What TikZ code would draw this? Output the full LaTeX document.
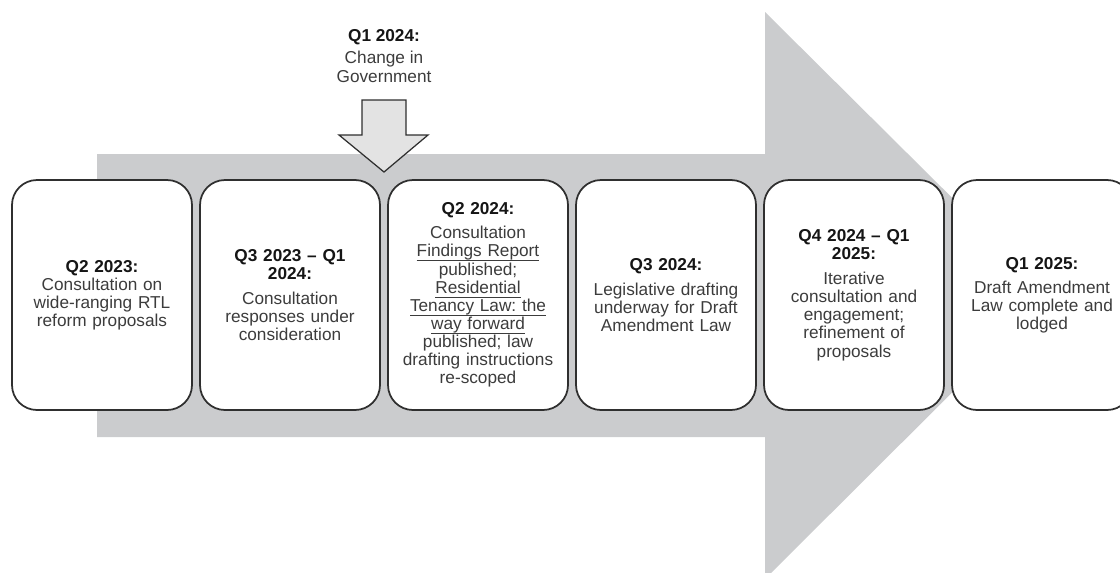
\documentclass[tikz,border=0pt]{standalone}
\usepackage{fontspec}
\setmainfont{Liberation Sans}
\usepackage{tikz}
\usetikzlibrary{positioning}
\definecolor{band}{HTML}{CBCCCE}
\definecolor{edge}{HTML}{2F2F2F}
\definecolor{body}{HTML}{3C3C3C}
\definecolor{head}{HTML}{151515}
\definecolor{drop}{HTML}{E3E3E3}
\frenchspacing
\newcommand{\stagehead}[1]{{\bfseries\color{head}#1}}
\newcommand{\linkline}[1]{\underline{\smash{#1}\rule[-0.8pt]{0pt}{0pt}}}
\tikzset{
 stage/.style={draw=edge,line width=0.35mm,fill=white,rounded corners=5mm,
  minimum width=36mm,minimum height=46mm,text width=34mm,align=center,
  text=body,inner sep=0pt},
}

\begin{document}
\begin{tikzpicture}[x=0.2mm,y=-0.2mm,font=\fontsize{9.8}{10.3}\selectfont]
\clip (0,0) rectangle (1120,572);
% the broad timeline arrow behind the stages
\fill[band] (97,154) -- (765,154) -- (765,12) -- (1050,295) -- (765,579)
 -- (765,437) -- (97,437) -- cycle;
% the change of government dropping in between two stages
\node[align=center,text=body,font=\fontsize{9.8}{11.2}\selectfont] (govt) at (384,56)
 {\stagehead{Q1 2024:}\\[0.5mm] Change in\\ Government};
\draw[edge,line width=0.25mm,fill=drop,line join=miter] (362,100) -- (406,100) -- (406,135)
 -- (428,135) -- (384,172) -- (339,135) -- (362,135) -- cycle;
% the six stages
\node[stage] (s1) at (102,295)
 {\stagehead{Q2 2023:}\\ Consultation on\\ wide-ranging RTL\\ reform proposals};
\node[stage,right=1.25mm of s1] (s2)
 {\stagehead{Q3 2023 – Q1}\\ \stagehead{2024:}\\[1.4mm] Consultation\\ responses under\\ consideration};
\node[stage,right=1.25mm of s2] (s3)
 {\stagehead{Q2 2024:}\\[1.2mm] Consultation\\ \linkline{Findings Report}\\ published;\\
  \linkline{Residential}\\ \linkline{Tenancy Law: the}\\ \linkline{way forward}\\ published; law\\
  drafting instructions\\ re-scoped};
\node[stage,right=1.25mm of s3] (s4)
 {\stagehead{Q3 2024:}\\[1.4mm] Legislative drafting\\ underway for Draft\\ Amendment Law};
\node[stage,right=1.25mm of s4] (s5)
 {\stagehead{Q4 2024 – Q1}\\ \stagehead{2025:}\\[1.4mm] Iterative\\ consultation and\\ engagement;\\ refinement of\\ proposals};
\node[stage,right=1.25mm of s5] (s6)
 {\stagehead{Q1 2025:}\\[1.2mm] Draft Amendment\\ Law complete and\\ lodged};
\end{tikzpicture}
\end{document}
